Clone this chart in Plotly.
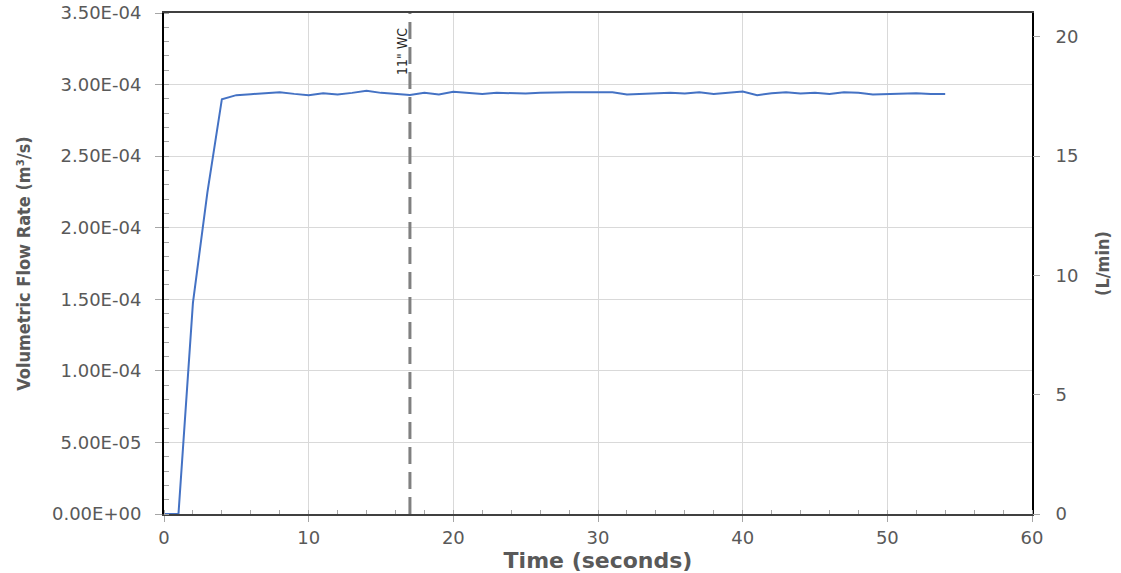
import plotly.graph_objects as go

time_s = list(range(0, 55))
flow_m3s = [
    0.0, 0.0, 1.475e-4, 2.247e-4, 2.898e-4, 2.926e-4, 2.933e-4, 2.938e-4, 2.947e-4, 2.935e-4,
    2.926e-4, 2.940e-4, 2.931e-4, 2.942e-4, 2.956e-4, 2.942e-4, 2.935e-4, 2.928e-4, 2.942e-4, 2.931e-4,
    2.950e-4, 2.945e-4, 2.935e-4, 2.942e-4, 2.938e-4, 2.938e-4, 2.942e-4, 2.947e-4, 2.947e-4, 2.947e-4,
    2.947e-4, 2.947e-4, 2.931e-4, 2.935e-4, 2.938e-4, 2.942e-4, 2.938e-4, 2.947e-4, 2.935e-4, 2.945e-4,
    2.952e-4, 2.926e-4, 2.940e-4, 2.947e-4, 2.938e-4, 2.942e-4, 2.935e-4, 2.947e-4, 2.942e-4, 2.931e-4,
    2.935e-4, 2.940e-4, 2.940e-4, 2.935e-4, 2.935e-4,
]
flow_lpm = [v * 60000 for v in flow_m3s]

y_tickvals = [0, 5e-5, 1e-4, 1.5e-4, 2e-4, 2.5e-4, 3e-4, 3.5e-4]
y_ticktext = ["0.00E+00", "5.00E-05", "1.00E-04", "1.50E-04", "2.00E-04", "2.50E-04", "3.00E-04", "3.50E-04"]
y2_tickvals = [0, 5, 10, 15, 20]

marker_x = [17]
marker_label = ['11" WC']

tick_font = dict(family="DejaVu Sans", size=18, color="#595959")
narrow = "DejaVu Sans Condensed, Liberation Sans Narrow, Arial Narrow, sans-serif"

fig = go.Figure()
fig.add_trace(go.Scatter(x=time_s, y=flow_m3s, mode="lines",
                         line=dict(color="#4472C4", width=2), showlegend=False))
fig.add_trace(go.Scatter(x=time_s, y=flow_lpm, mode="lines", yaxis="y2",
                         line=dict(color="#4472C4", width=0), opacity=0,
                         showlegend=False, hoverinfo="skip"))

for xv, lab in zip(marker_x, marker_label):
    fig.add_shape(type="line", x0=xv, x1=xv, xref="x", y0=0, y1=1, yref="paper",
                  line=dict(color="#808080", width=3, dash="17px,8px"))
    fig.add_annotation(x=xv, xref="x", y=0.975, yref="paper", text=lab, textangle=-90,
                       showarrow=False, xshift=-8,
                       font=dict(family=narrow, size=14, color="#262626"))

fig.update_layout(
    width=1121, height=573,
    margin=dict(l=164, r=89, t=13, b=59),
    plot_bgcolor="white", paper_bgcolor="white",
    xaxis=dict(range=[0, 60], dtick=10, tick0=0, showgrid=True, gridcolor="#d9d9d9", gridwidth=1,
               zeroline=False, showline=True, linecolor="#404040", linewidth=2, mirror=True,
               ticks="outside", ticklen=6, tickcolor="#a6a6a6", tickfont=tick_font, automargin=False,
               minor=dict(dtick=2, ticks="inside", ticklen=4, tickcolor="#a6a6a6", showgrid=False),
               title=dict(text="Time (seconds)", font=dict(family="DejaVu Sans", size=22, color="#595959", weight="bold"),
                          standoff=3)),
    yaxis=dict(range=[0, 3.5e-4], tickvals=y_tickvals, ticktext=y_ticktext, showgrid=True,
               gridcolor="#d9d9d9", gridwidth=1, zeroline=False, showline=True, linecolor="#000000",
               linewidth=2, mirror=True, ticks="outside", ticklen=7, tickcolor="#a6a6a6",
               tickfont=tick_font, ticklabelstandoff=10, automargin=False,
               minor=dict(dtick=1e-5, ticks="inside", ticklen=5, tickcolor="#a6a6a6", showgrid=False),
               title=dict(text="Volumetric Flow Rate (m³/s)",
                          font=dict(family=narrow, size=18, color="#595959", weight="bold"),
                          standoff=17)),
    yaxis2=dict(range=[0, 21], tickvals=y2_tickvals, overlaying="y", side="right", showgrid=False,
                zeroline=False, showline=False, ticks="outside", ticklen=7, tickcolor="#a6a6a6",
                tickfont=tick_font, ticklabelstandoff=12, automargin=False,
                title=dict(text="(L/min)", font=dict(family=narrow, size=18, color="#595959", weight="bold"),
                           standoff=18)),
)

fig.write_html("out.html", config={"displayModeBar": False},
               post_script="document.body.style.margin='0';")
